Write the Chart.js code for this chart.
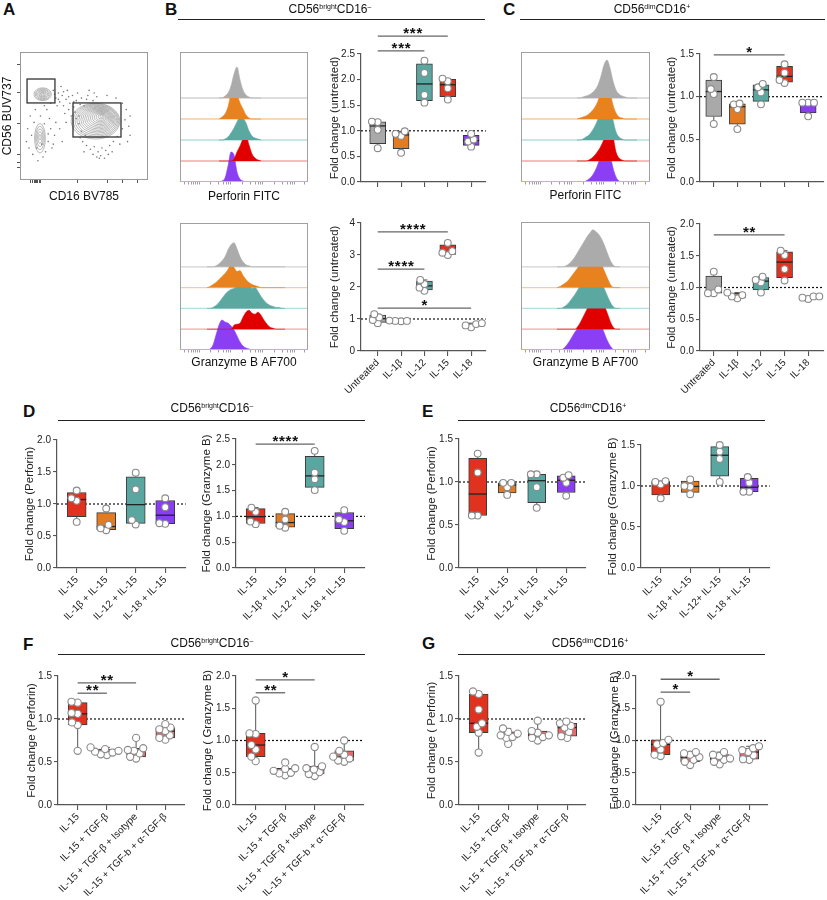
<!DOCTYPE html>
<html><head><meta charset="utf-8">
<script src="https://cdn.jsdelivr.net/npm/chart.js@4.4.1/dist/chart.umd.min.js"></script>
<style>
html,body{margin:0;padding:0;background:#fff}
body{position:relative;width:827px;height:900px;overflow:hidden;font-family:'Liberation Sans',Arial,Helvetica,sans-serif;color:#111}
canvas{position:absolute}
.pl{position:absolute;font-weight:bold;font-size:17px;line-height:17px}
.tt{position:absolute;font-size:12px;line-height:14px;white-space:nowrap;transform:translateX(-50%);will-change:transform;color:#111}
.tt sup{font-size:7px;vertical-align:4px;line-height:0;color:#111}
.rule{position:absolute;height:1.5px;background:#222}
</style></head><body>
<div class="pl" style="left:3px;top:1px">A</div>
<div class="pl" style="left:165px;top:1px">B</div>
<div class="pl" style="left:503px;top:1px">C</div>
<div class="pl" style="left:23px;top:403px">D</div>
<div class="pl" style="left:422px;top:403px">E</div>
<div class="pl" style="left:23px;top:636px">F</div>
<div class="pl" style="left:422px;top:635px">G</div>
<div class="tt" style="left:330px;top:1.5px">CD56<sup>bright</sup>CD16<sup>–</sup></div>
<div class="tt" style="left:652px;top:1.5px">CD56<sup>dim</sup>CD16<sup>+</sup></div>
<div class="tt" style="left:212px;top:400.5px">CD56<sup>bright</sup>CD16<sup>–</sup></div>
<div class="tt" style="left:588px;top:400.5px">CD56<sup>dim</sup>CD16<sup>+</sup></div>
<div class="tt" style="left:212px;top:636px">CD56<sup>bright</sup>CD16<sup>–</sup></div>
<div class="tt" style="left:590px;top:636px">CD56<sup>dim</sup>CD16<sup>+</sup></div>
<div class="rule" style="left:178px;width:307px;top:18.5px"></div>
<div class="rule" style="left:520px;width:305px;top:18.5px"></div>
<div class="rule" style="left:58px;width:307px;top:419.5px"></div>
<div class="rule" style="left:458px;width:307px;top:419.5px"></div>
<div class="rule" style="left:58px;width:307px;top:653.5px"></div>
<div class="rule" style="left:458px;width:307px;top:653.5px"></div>
<script>
// ---------------- DATA ----------------
const catsCyt = ['Untreated', 'IL-1β', 'IL-12', 'IL-15', 'IL-18'];
const catsCombo = ['IL-15', 'IL-1β + IL-15', 'IL-12 + IL-15', 'IL-18 + IL-15'];
const catsComboE2 = ['IL-15', 'IL-1β + IL-15', 'IL-12+ IL-15', 'IL-18 + IL-15'];
const catsTgf = ['IL-15', 'IL-15 + TGF-β', 'IL-15 + TGF-β + Isotype', 'IL-15 + TGF-b + α-TGF-β'];
const catsTgfG2 = ['IL-15', 'IL-15 + TGF- β', 'IL-15 + TGF- β + Isotype', 'IL-15 + TGF-b + α-TGF-β'];

// fold-change values per group (one inner array per category)
const perfBrightCyt = [[0.66,1.02,1.17,1.18],[0.57,0.90,0.94,0.99],[1.55,1.70,2.13,2.37],[1.61,1.83,1.97,2.02],[0.69,0.79,0.83,0.94]];
const gzmbBrightCyt = [[0.87,0.97,1.05,1.15],[0.93,0.94,0.94,0.95],[1.88,1.98,2.09,2.22],[3.00,3.07,3.12,3.38],[0.74,0.80,0.84,0.87]];
const perfDimCyt = [[0.68,1.03,1.09,1.23],[0.62,0.855,0.91,0.92],[0.91,1.05,1.11,1.15],[1.16,1.195,1.28,1.38],[0.77,0.93,0.93,0.93]];
const gzmbDimCyt = [[0.91,0.91,0.97,1.25],[0.83,0.86,0.88,0.92],[0.92,1.08,1.12,1.17],[1.11,1.29,1.51,1.58],[0.82,0.84,0.86,0.86]];
const perfBrightCombo = [[0.72,1.05,1.09,1.21],[0.59,0.62,0.675,0.93],[0.68,0.75,1.23,1.49],[0.69,0.70,0.95,1.09]];
const gzmbBrightCombo = [[0.85,0.90,1.09,1.17],[0.78,0.82,0.94,1.09],[1.51,1.72,1.85,2.27],[0.72,0.89,0.94,1.12]];
const perfDimCombo = [[0.61,0.61,1.11,1.33],[0.85,0.94,0.99,0.99],[0.70,0.94,1.09,1.09],[0.84,0.99,1.05,1.08]];
const gzmbDimCombo = [[0.85,1.02,1.05,1.06],[0.90,0.99,1.00,1.08],[1.05,1.33,1.42,1.50],[0.93,0.93,1.04,1.11]];
const perfBrightTgf = [[0.63,0.93,0.96,1.06,1.07,1.19,1.20],[0.58,0.59,0.61,0.62,0.63,0.65,0.67],[0.54,0.56,0.60,0.63,0.64,0.66,0.78],[0.76,0.78,0.81,0.86,0.88,0.90,0.94]];
const gzmbBrightTgf = [[0.68,0.75,0.86,0.93,1.10,1.11,1.62],[0.46,0.49,0.50,0.53,0.56,0.57,0.66],[0.45,0.48,0.51,0.55,0.57,0.60,0.90],[0.67,0.69,0.72,0.75,0.78,0.84,1.00]];
const perfDimTgf = [[0.61,0.84,0.91,0.95,1.11,1.29,1.32],[0.71,0.78,0.79,0.81,0.83,0.85,0.89],[0.75,0.78,0.79,0.81,0.84,0.86,0.98],[0.78,0.80,0.85,0.90,0.92,0.95,0.97]];
const gzmbDimTgf = [[0.76,0.78,0.86,0.94,0.96,1.01,1.60],[0.62,0.67,0.70,0.74,0.78,0.80,0.82],[0.63,0.67,0.70,0.72,0.76,0.78,0.82],[0.70,0.71,0.77,0.82,0.85,0.88,0.91]];

// significance brackets: [fromIndex, toIndex, label, height in y units]
const sigB1 = [[0,3,'***',2.85],[0,2,'***',2.56]];
const sigB2 = [[0,3,'****',3.72],[0,2,'****',2.56],[0,4,'*',1.34]];
const sigC1 = [[0,3,'*',1.49]];
const sigC2 = [[0,3,'**',1.83]];
const sigD2 = [[0,2,'****',2.40]];
const sigF1 = [[0,1,'**',1.30],[0,2,'**',1.42]];
const sigF2 = [[0,1,'**',1.74],[0,2,'*',1.94]];
const sigG2 = [[0,1,'*',1.75],[0,2,'*',1.95]];

// histogram channel grids and heights (lanes: untreated, IL-1b, IL-12, IL-15, IL-18)
const gridPerfB = [39,42,45,48,51,54,57,60,63,66,69,72,75,78,81];
const hPerfB_untreated = [0,0,2,5,12,24,31,18,8,3,1,0,0,0,0];
const hPerfB_il1b = [0,2,5,12,25,30,24,16,10,4,1,0,0,0,0];
const hPerfB_il12 = [0,0,1,3,7,12,18,24,22,17,9,4,2,1,0];
const hPerfB_il15 = [0,0,0,0,0,2,9,15,22,25,16,7,3,1,0];
const hPerfB_il18 = [0,1,4,16,30,27,10,3,1,0,0,0,0,0,0];

const gridPerfC = [56,59,62,65,68,71,74,77,80,83,86,89,92,95,98,101,104,107,110,113,116];
const hPerfC_untreated = [0,0,1,2,3,5,8,13,22,33,38,30,17,8,4,2,1,0,0,0,0];
const hPerfC_il1b = [0,1,2,3,5,8,12,18,28,37,38,27,14,6,2,1,0,0,0,0,0];
const hPerfC_il12 = [0,0,1,3,5,9,14,21,30,37,40,33,20,8,3,1,0,0,0,0,0];
const hPerfC_il15 = [0,0,0,0,1,3,6,10,15,22,32,38,25,9,3,1,0,0,0,0,0];
const hPerfC_il18 = [0,0,0,1,3,6,11,18,27,35,36,28,14,5,1,0,0,0,0,0,0];

const gridGzmbB = [27,30,33,36,39,42,45,48,51,54,57,60,63,66,69,72,75,78,81,84,87,90,93,96,99,102,105];
const hGzmbB_untreated = [0,0,0,1,3,6,10,17,22,24,18,10,5,2,1,0,0,0,0,0,0,0,0,0,0,0,0];
const hGzmbB_il1b = [0,1,3,5,8,11,14,18,23,20,16,17,12,8,5,3,2,1,0,0,0,0,0,0,0,0,0];
const hGzmbB_il12 = [0,0,1,3,6,10,14,17,19,20,22,24,26,22,23,20,21,17,12,8,5,3,2,1,1,0,0];
const hGzmbB_il15 = [0,0,0,0,0,0,0,0,0,4,5,6,12,17,19,16,15,17,14,9,5,2,1,0,0,0,0];
const hGzmbB_il18 = [0,1,5,15,25,30,28,27,24,20,14,8,4,2,1,0,0,0,0,0,0,0,0,0,0,0,0];

const gridGzmbC = [36,39,42,45,48,51,54,57,60,63,66,69,72,75,78,81,84,87,90,93,96,99];
const hGzmbC_untreated = [0,0,0,1,3,6,10,15,20,25,30,34,37,35,32,27,20,12,5,1,0,0];
const hGzmbC_il1b = [0,1,3,5,8,12,16,20,25,30,32,35,36,33,29,22,15,8,2,0,0,0];
const hGzmbC_il12 = [0,0,1,3,6,10,14,19,24,29,33,36,38,35,31,25,18,11,5,1,0,0];
const hGzmbC_il15 = [0,0,0,0,0,0,0,3,8,14,20,27,33,38,36,30,22,14,6,1,0,0];
const hGzmbC_il18 = [0,0,1,4,8,13,18,22,26,29,32,34,37,34,30,23,15,8,3,0,0,0];
const histTicks = [4,8,11,13,15,17,19,30,38,43,46,48,50,62,70,75,78,80,82,94,102,107,110,112,114,124];

// flow plot (panel A), biexponential display units 0-100
const flowGates = [[5.5,60.2,27.3,78.9],[41.4,33.6,78.9,60.2]];
const flowContours = [[17.7,67,6.8,5,7,0,0],[64,50,19,14,16,-5,-4],[15.6,33.6,4.2,11.5,5,0,-1]];
const flowDots = [[26,70],[28,64],[30,68],[31,61],[33,66],[34,58],[36,63],[37,70],[38,55],[39,60],[41,66],[42,57],[44,62],[45,68],[47,59],[29,58],[32,73],[35,52],[40,50],[43,53],
 [46,44],[48,38],[49,30],[52,27],[55,24],[58,26],[61,22],[64,25],[67,23],[70,27],[73,30],[76,34],[80,40],[82,47],[83,55],[80,60],[75,64],[68,66],[60,65],[52,63],[50,58],[46,50],[57,20],[63,19],[69,20],
 [5,30],[6,40],[7,25],[8,50],[9,35],[10,20],[11,45],[12,55],[20,22],[22,30],[24,40],[23,48],[21,55],[18,18],[25,25],[27,35],[28,45],[14,15],[16,50],[19,44],[36,45],[31,40],[33,30],[54,70],[58,68],[86,35],[84,30],[62,17],[50,22],
 [27,67],[30,63],[34,69],[38,65],[42,61],[48,64],[53,66],[57,62],[44,48],[47,33],[51,35],[60,18],[66,17],[72,22],[78,28],[85,42],[86,50],[22,36],[26,28],[13,25],[17,28],[24,60],[19,58]];
const flowTicksX = [8,10,11,12,13,14,15,16,45,68,80,92];
const flowTicksY = [20,44,68,90,10,14];

// ---------------- STYLE ----------------
Chart.defaults.font.family = "'Liberation Sans', Arial, Helvetica, sans-serif";
Chart.defaults.color = '#222';
Chart.defaults.animation = false;
Chart.defaults.events = [];
const colCyt = ['#a9a9a9','#e27b22','#5aa7a1','#e0321e','#8a3df2'];
const colCombo = ['#e0321e','#e27b22','#5aa7a1','#8a3df2'];
const colTgf = ['#e0321e','#ee6868','#ee6868','#ee6868'];
const histFill = ['#ababab','#e8821e','#5ba8a1','#e00000','#8b3ff5'];
const histBase = ['#d2d2d2','#f6cba2','#b4dfdb','#f4a6a6','#c9a9fb'];

function mk(id, left, top, w, h){
  const c = document.createElement('canvas');
  c.id = id; c.width = w; c.height = h;
  c.style.left = left + 'px'; c.style.top = top + 'px';
  c.style.width = w + 'px'; c.style.height = h + 'px';
  document.body.appendChild(c);
  return c;
}
function quart(vals){
  const s = [...vals].sort((a,b)=>a-b), n = s.length;
  const p = q => { const pos = (n+1)*q; if (pos <= 1) return s[0]; if (pos >= n) return s[n-1];
    const lo = Math.floor(pos), fr = pos - lo; return s[lo-1] + fr*(s[lo]-s[lo-1]); };
  return {min:s[0], q1:p(0.25), med:p(0.5), q3:p(0.75), max:s[n-1]};
}
function swarm(vals, pxY, r){
  const s = [...vals].sort((a,b)=>a-b), placed = [], D = 1.75*r;
  for (const v of s){
    const y = v*pxY, iv = [];
    placed.forEach(p => { const dy = Math.abs(p.y - y); if (dy < D){ const w = Math.sqrt(D*D - dy*dy); iv.push([p.dx-w, p.dx+w]); } });
    const cands = [0]; iv.forEach(a => cands.push(a[0], a[1]));
    cands.sort((a,b)=>Math.abs(a)-Math.abs(b));
    let dx = 0;
    for (const c of cands){ if (iv.every(a => c <= a[0]+1e-6 || c >= a[1]-1e-6)){ dx = c; break; } }
    placed.push({v, y, dx});
  }
  return placed;
}

const boxPlugin = {
  id: 'boxExtras',
  beforeDatasetsDraw(chart, args, o){
    const {ctx, chartArea:a, scales:{y}} = chart;
    const py = y.getPixelForValue(1);
    ctx.save(); ctx.strokeStyle = '#111'; ctx.lineWidth = 1.2; ctx.setLineDash([2,2]);
    ctx.beginPath(); ctx.moveTo(a.left, py); ctx.lineTo(a.right, py); ctx.stroke(); ctx.restore();
  },
  afterDatasetDraw(chart, args, o){
    if (args.meta.type !== 'bar') return;
    const {ctx, scales:{x, y}} = chart;
    ctx.save();
    o.stats.forEach((s, i) => {
      const cx = x.getPixelForValue(i), w = o.bw;
      ctx.strokeStyle = '#555'; ctx.lineWidth = 1;
      ctx.beginPath();
      ctx.moveTo(cx, y.getPixelForValue(s.min)); ctx.lineTo(cx, y.getPixelForValue(s.q1));
      ctx.moveTo(cx, y.getPixelForValue(s.q3)); ctx.lineTo(cx, y.getPixelForValue(s.max));
      ctx.moveTo(cx-3, y.getPixelForValue(s.min)); ctx.lineTo(cx+3, y.getPixelForValue(s.min));
      ctx.moveTo(cx-3, y.getPixelForValue(s.max)); ctx.lineTo(cx+3, y.getPixelForValue(s.max));
      ctx.stroke();
      ctx.strokeStyle = '#222'; ctx.lineWidth = 1.3;
      const pm = y.getPixelForValue(s.med);
      ctx.beginPath(); ctx.moveTo(cx - w/2, pm); ctx.lineTo(cx + w/2, pm); ctx.stroke();
    });
    ctx.restore();
  },
  afterDraw(chart, args, o){
    const {ctx, scales:{x, y}} = chart;
    ctx.save();
    (o.sig || []).forEach(([i0, i1, lab, v]) => {
      const x0 = x.getPixelForValue(i0), x1 = x.getPixelForValue(i1), py = y.getPixelForValue(v);
      ctx.strokeStyle = '#666'; ctx.lineWidth = 1.3;
      ctx.beginPath(); ctx.moveTo(x0, py); ctx.lineTo(x1, py); ctx.stroke();
      ctx.fillStyle = '#111'; ctx.font = "bold 15px 'Liberation Sans', Arial"; ctx.textAlign = 'center'; ctx.textBaseline = 'alphabetic';
      const sp = 6.6, n = lab.length, cxm = (x0 + x1)/2;
      for (let k = 0; k < n; k++) ctx.fillText(lab[k], cxm + (k - (n-1)/2)*sp, py + 2);
    });
    ctx.restore();
  }
};

const boxSpecs = [
  {id:'b1', L:361, R:488, T:54,  B:182, c0:378, step:23.75, tcx:335, yMax:2.5, yStep:0.5, dec:1, title:'Fold change (untreated)', cats:catsCyt, groups:perfBrightCyt, colors:colCyt, sig:sigB1, labels:false, bw:16, r:3.4},
  {id:'b2', L:361, R:488, T:223, B:351, c0:378, step:23.75, tcx:335, yMax:4, yStep:1, dec:0, title:'Fold change (untreated)', cats:catsCyt, groups:gzmbBrightCyt, colors:colCyt, sig:sigB2, labels:true, bw:16, r:3.4},
  {id:'c1', L:700, R:826, T:54,  B:182, c0:714, step:24, tcx:672, yMax:1.5, yStep:0.5, dec:1, title:'Fold change (untreated)', cats:catsCyt, groups:perfDimCyt, colors:colCyt, sig:sigC1, labels:false, bw:16, r:3.4},
  {id:'c2', L:700, R:826, T:224, B:351, c0:714, step:24, tcx:672, yMax:2, yStep:0.5, dec:1, title:'Fold change (untreated)', cats:catsCyt, groups:gzmbDimCyt, colors:colCyt, sig:sigC2, labels:true, bw:16, r:3.4},
  {id:'d1', L:57,  R:188, T:440, B:568, c0:77,  step:30, tcx:30,  yMax:2, yStep:0.5, dec:1, title:'Fold change (Perforin)', cats:catsCombo, groups:perfBrightCombo, colors:colCombo, sig:[], labels:true, bw:19, r:3.4},
  {id:'d2', L:236, R:367, T:439, B:568, c0:256, step:30, tcx:207, yMax:2.5, yStep:0.5, dec:1, title:'Fold change (Granzyme B)', cats:catsCombo, groups:gzmbBrightCombo, colors:colCombo, sig:sigD2, labels:true, bw:19, r:3.4},
  {id:'e1', L:459, R:588, T:439, B:568, c0:478, step:30, tcx:432, yMax:1.5, yStep:0.5, dec:1, title:'Fold change (Perforin)', cats:catsCombo, groups:perfDimCombo, colors:colCombo, sig:[], labels:true, bw:18, r:3.4},
  {id:'e2', L:641, R:772, T:445, B:568, c0:661, step:30, tcx:613, yMax:1.5, yStep:0.5, dec:1, title:'Fold change (Granzyme B)', cats:catsComboE2, groups:gzmbDimCombo, colors:colCombo, sig:[], labels:true, bw:18, r:3.4},
  {id:'f1', L:58,  R:187, T:676, B:805, c0:78,  step:29.7, tcx:32, yMax:1.5, yStep:0.5, dec:1, title:'Fold change (Perforin)', cats:catsTgf, groups:perfBrightTgf, colors:colTgf, sig:sigF1, labels:true, bw:19, r:3.6},
  {id:'f2', L:236, R:366, T:676, B:805, c0:256, step:30, tcx:208, yMax:2, yStep:0.5, dec:1, title:'Fold change ( Granzyme B)', cats:catsTgf, groups:gzmbBrightTgf, colors:colTgf, sig:sigF2, labels:true, bw:19, r:3.6},
  {id:'g1', L:459, R:588, T:676, B:805, c0:479, step:30, tcx:432, yMax:1.5, yStep:0.5, dec:1, title:'Fold change ( Perforin)', cats:catsTgf, groups:perfDimTgf, colors:colTgf, sig:[], labels:true, bw:19, r:3.6},
  {id:'g2', L:636, R:770, T:676, B:805, c0:661, step:30, tcx:615, yMax:2, yStep:0.5, dec:1, title:'Fold change (Granzyme B)', cats:catsTgfG2, groups:gzmbDimTgf, colors:colTgf, sig:sigG2, labels:true, bw:19, r:3.6},
];

boxSpecs.forEach(s => {
  const padTop = 36, padRight = 3, xH = s.labels ? 100 : 8;
  const cl = Math.round(s.tcx - 7);
  const yW = s.L - cl;
  const w = s.R - cl + padRight, h = padTop + (s.B - s.T) + xH;
  const c = mk(s.id, cl, s.T - padTop, w, h);
  const xmin = -(s.c0 - s.L)/s.step;
  const xmax = (s.cats.length - 1) + (s.R - (s.c0 + (s.cats.length-1)*s.step))/s.step;
  const pxY = (s.B - s.T)/s.yMax;
  const stats = s.groups.map(quart);
  const pts = [];
  s.groups.forEach((g, i) => swarm(g, pxY, s.r).forEach(p => pts.push({x: i + p.dx/s.step, y: p.v})));
  const yTicks = []; for (let v = 0; v <= s.yMax + 1e-9; v += s.yStep) yTicks.push(+v.toFixed(3));
  new Chart(c, {
    type: 'bar',
    data: { datasets: [
      { type:'scatter', data: pts, pointRadius: s.r, pointBackgroundColor:'#ffffff', pointBorderColor:'#8a8a8a', pointBorderWidth:1.1, order:0, clip:false },
      { type:'bar', data: stats.map((st,i)=>({x:i, y:[st.q1, st.q3]})), backgroundColor: s.colors, borderColor:'#3a3a3a', borderWidth:1, borderSkipped:false, barThickness:s.bw, order:1 }
    ]},
    options: {
      responsive:false, maintainAspectRatio:false,
      layout: { padding: { top:padTop, right:padRight, left:0, bottom:0 } },
      plugins: { legend:{display:false}, tooltip:{enabled:false}, boxExtras:{ stats, sig:s.sig, bw:s.bw } },
      scales: {
        x: { type:'linear', min:xmin, max:xmax, offset:false,
          afterBuildTicks: sc => { sc.ticks = s.cats.map((_, i) => ({value:i})); },
          ticks: { display:s.labels, autoSkip:false, minRotation:45, maxRotation:45, padding:1, font:{size:10}, color:'#222', callback: v => s.cats[v] },
          grid: { drawOnChartArea:false, offset:false, tickLength:5, color:'#555', lineWidth:1.1 },
          border: { display:true, color:'#555', width:1.2 },
          afterFit: sc => { sc.height = xH; sc.paddingLeft = 0; sc.paddingRight = 0; }
        },
        y: { min:0, max:s.yMax,
          afterBuildTicks: sc => { sc.ticks = yTicks.map(v => ({value:v})); },
          ticks: { padding:2, font:{size:10}, color:'#222', callback: v => (+v).toFixed(s.dec) },
          grid: { drawOnChartArea:false, tickLength:4, color:'#555', lineWidth:1.1 },
          border: { display:true, color:'#555', width:1.2 },
          title: { display:true, text:s.title, font:{size:11.5}, color:'#222', padding:0 },
          afterFit: sc => { sc.width = yW; sc.paddingTop = 0; sc.paddingBottom = 0; }
        }
      }
    },
    plugins: [boxPlugin]
  });
});

// ---------------- HISTOGRAMS ----------------
const framePlugin = {
  id:'frame',
  afterDraw(chart, args, o){
    const {ctx, chartArea:a} = chart;
    ctx.save(); ctx.strokeStyle = o.color || '#999'; ctx.lineWidth = 1;
    ctx.strokeRect(a.left + 0.5, a.top + 0.5, a.right - a.left - 1, a.bottom - a.top - 1);
    if (o.bottom){ ctx.strokeStyle = o.bottom; ctx.beginPath(); ctx.moveTo(a.left, a.bottom - 0.5); ctx.lineTo(a.right, a.bottom - 0.5); ctx.stroke(); }
    ctx.restore();
  }
};
const histSpecs = [
  {id:'hb1', L:180, R:308, T:52,  B:182, labelY:197, lane:21,   label:'Perforin FITC', grid:gridPerfB, curves:[hPerfB_untreated,hPerfB_il1b,hPerfB_il12,hPerfB_il15,hPerfB_il18]},
  {id:'hb2', L:180, R:308, T:223, B:350, labelY:363, lane:20.8, label:'Granzyme B AF700', grid:gridGzmbB, curves:[hGzmbB_untreated,hGzmbB_il1b,hGzmbB_il12,hGzmbB_il15,hGzmbB_il18]},
  {id:'hc1', L:521, R:650, T:52,  B:182, labelY:196, lane:21,   label:'Perforin FITC', grid:gridPerfC, curves:[hPerfC_untreated,hPerfC_il1b,hPerfC_il12,hPerfC_il15,hPerfC_il18]},
  {id:'hc2', L:521, R:650, T:222, B:350, labelY:363, lane:20.8, label:'Granzyme B AF700', grid:gridGzmbC, curves:[hGzmbC_untreated,hGzmbC_il1b,hGzmbC_il12,hGzmbC_il15,hGzmbC_il18]},
];
histSpecs.forEach(s => {
  const W = s.R - s.L, H = s.B - s.T;
  const xH = Math.round(s.labelY + 7.2 - s.B);
  const c = mk(s.id, s.L, s.T, W, H + xH);
  const ds = [];
  s.curves.forEach((h, k) => {
    const base = (4 - k) * s.lane;
    if (k < 4) ds.push({ type:'line', data:[{x:0,y:base},{x:W,y:base}], borderColor:histBase[k], borderWidth:1.3, pointRadius:0, fill:false, order:10 });
    ds.push({ type:'line', data: s.grid.map((gx, j) => ({x:gx, y: base + h[j]})), borderColor:histFill[k], backgroundColor:histFill[k], borderWidth:0.6,
      pointRadius:0, cubicInterpolationMode:'monotone', fill:{value:base}, order:k });
  });
  new Chart(c, {
    type:'line',
    data:{ datasets: ds },
    options:{
      responsive:false, maintainAspectRatio:false,
      layout:{ padding:0 },
      plugins:{ legend:{display:false}, tooltip:{enabled:false}, frame:{ color:'#a0a0a0', bottom:'#c4a8f5' } },
      scales:{
        x:{ type:'linear', min:0, max:W,
          afterBuildTicks: sc => { sc.ticks = histTicks.filter(t => t < W).map(v => ({value:v})); },
          ticks:{ display:false },
          grid:{ drawOnChartArea:false, tickLength:2.5, color:'#888', lineWidth:0.8 },
          border:{ display:false },
          title:{ display:true, text:s.label, font:{size:12}, color:'#111', padding:0 },
          afterFit: sc => { sc.height = xH; sc.paddingLeft = 0; sc.paddingRight = 0; }
        },
        y:{ display:false, min:0, max:H }
      }
    },
    plugins:[framePlugin]
  });
});

// ---------------- FLOW PLOT (A) ----------------
const flowPlugin = {
  id:'flowDraw',
  afterDatasetsDraw(chart){
    const {ctx, scales:{x, y}} = chart;
    ctx.save(); ctx.strokeStyle = '#8c8c8c'; ctx.lineWidth = 0.6;
    flowContours.forEach(([cx, cy, rx, ry, n, sx, sy]) => {
      for (let k = 1; k <= n; k++){
        const f = k/n;
        const px = x.getPixelForValue(cx + sx*f), py = y.getPixelForValue(cy + sy*f);
        const prx = Math.abs(x.getPixelForValue(cx + rx*f) - x.getPixelForValue(cx));
        const pry = Math.abs(y.getPixelForValue(cy + ry*f) - y.getPixelForValue(cy));
        ctx.beginPath(); ctx.ellipse(px, py, prx, pry, 0, 0, 2*Math.PI); ctx.stroke();
      }
    });
    ctx.strokeStyle = '#333'; ctx.lineWidth = 1.3;
    flowGates.forEach(([x0, y0, x1, y1]) => {
      const a = x.getPixelForValue(x0), b = y.getPixelForValue(y1), c2 = x.getPixelForValue(x1), d = y.getPixelForValue(y0);
      ctx.strokeRect(a, b, c2 - a, d - b);
    });
    ctx.restore();
  }
};
(function(){
  const L = 20, R = 148, T = 52, B = 180, top = 45, xH = 24;
  const c = mk('flowA', 0, top, R + 5, (T - top) + (B - T) + xH);
  new Chart(c, {
    type:'scatter',
    data:{ datasets:[{ data: flowDots.map(([a,b]) => ({x:a, y:b})), pointRadius:0.8, pointBackgroundColor:'#777', pointBorderWidth:0 }] },
    options:{
      responsive:false, maintainAspectRatio:false,
      layout:{ padding:{ top:T - top, right:5, left:0, bottom:0 } },
      plugins:{ legend:{display:false}, tooltip:{enabled:false}, frame:{ color:'#999' } },
      scales:{
        x:{ type:'linear', min:0, max:100,
          afterBuildTicks: sc => { sc.ticks = flowTicksX.map(v => ({value:v})); },
          ticks:{ display:false }, grid:{ drawOnChartArea:false, tickLength:3, color:'#555' }, border:{ display:false },
          title:{ display:true, text:'CD16 BV785', font:{size:12}, color:'#111', padding:0 },
          afterFit: sc => { sc.height = xH; sc.paddingLeft = 0; sc.paddingRight = 0; }
        },
        y:{ min:0, max:100,
          afterBuildTicks: sc => { sc.ticks = flowTicksY.map(v => ({value:v})); },
          ticks:{ display:false }, grid:{ drawOnChartArea:false, tickLength:3, color:'#555' }, border:{ display:false },
          title:{ display:true, text:'CD56 BUV737', font:{size:12}, color:'#111', padding:0 },
          afterFit: sc => { sc.width = L; sc.paddingTop = 0; sc.paddingBottom = 0; }
        }
      }
    },
    plugins:[framePlugin, flowPlugin]
  });
})();
</script>
</body></html>
